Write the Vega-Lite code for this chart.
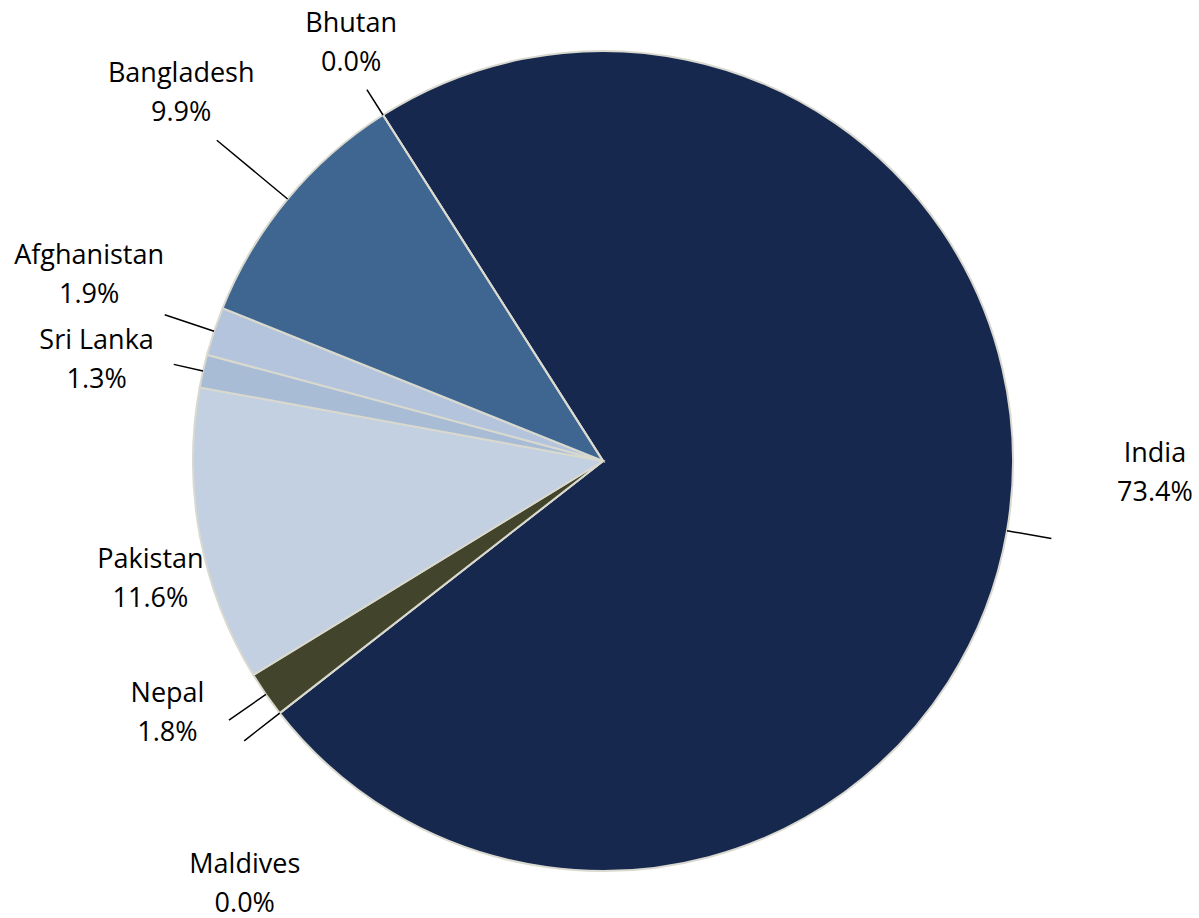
{
  "$schema": "https://vega.github.io/schema/vega-lite/v6.json",
  "width": 1192,
  "height": 916,
  "autosize": {"type": "none"},
  "padding": {"left": 7, "top": 3, "right": 0, "bottom": 0},
  "background": "white",
  "config": {"view": {"stroke": null}},
  "data": {"values": [
    {"country": "India", "value": 73.4, "order": 1},
    {"country": "Maldives", "value": 0.0, "order": 2},
    {"country": "Nepal", "value": 1.8, "order": 3},
    {"country": "Pakistan", "value": 11.6, "order": 4},
    {"country": "Sri Lanka", "value": 1.3, "order": 5},
    {"country": "Afghanistan", "value": 1.9, "order": 6},
    {"country": "Bangladesh", "value": 9.9, "order": 7},
    {"country": "Bhutan", "value": 0.0, "order": 8}
  ]},
  "transform": [
    {"window": [{"op": "sum", "field": "value", "as": "cum"}], "sort": [{"field": "order", "order": "ascending"}], "frame": [null, 0]},
    {"calculate": "datum.cum - datum.value / 2", "as": "mid"},
    {"calculate": "datum.country + '\\n' + format(datum.value, '.1f') + '%'", "as": "label"}
  ],
  "layer": [
    {
      "mark": {"type": "arc", "radius": 410, "stroke": "#d9d9cf", "strokeWidth": 2},
      "encoding": {
        "theta": {"field": "value", "type": "quantitative", "stack": true, "scale": {"domain": [0, 99.9], "range": [-0.5664, 5.7168]}},
        "order": {"field": "order", "type": "quantitative"},
        "color": {"field": "country", "type": "nominal", "legend": null,
          "scale": {"domain": ["India", "Maldives", "Nepal", "Pakistan", "Sri Lanka", "Afghanistan", "Bangladesh", "Bhutan"],
                    "range": ["#17284f", "#5b6b3a", "#42442b", "#c3d0e1", "#a9bcd6", "#b3c4dc", "#3e6690", "#2a4a7a"]}}
      }
    },
    {
      "transform": [{"filter": {"field": "country", "oneOf": ["Bhutan", "Sri Lanka"]}}],
      "mark": {"type": "arc", "radius": 440, "radius2": 410, "filled": false, "stroke": "black", "strokeWidth": 1.5},
      "encoding": {
        "theta": {"field": "mid", "type": "quantitative", "stack": null, "scale": {"domain": [0, 99.9], "range": [-0.5664, 5.7168]}},
        "theta2": {"field": "mid"}
      }
    },
    {
      "transform": [{"filter": {"field": "country", "oneOf": ["Nepal", "India", "Maldives"]}}],
      "mark": {"type": "arc", "radius": 455, "radius2": 410, "filled": false, "stroke": "black", "strokeWidth": 1.5},
      "encoding": {
        "theta": {"field": "mid", "type": "quantitative", "stack": null, "scale": {"domain": [0, 99.9], "range": [-0.5664, 5.7168]}},
        "theta2": {"field": "mid"}
      }
    },
    {
      "transform": [{"filter": {"field": "country", "oneOf": ["Afghanistan"]}}],
      "mark": {"type": "arc", "radius": 462, "radius2": 410, "filled": false, "stroke": "black", "strokeWidth": 1.5},
      "encoding": {
        "theta": {"field": "mid", "type": "quantitative", "stack": null, "scale": {"domain": [0, 99.9], "range": [-0.5664, 5.7168]}},
        "theta2": {"field": "mid"}
      }
    },
    {
      "transform": [{"filter": {"field": "country", "oneOf": ["Bangladesh"]}}],
      "mark": {"type": "arc", "radius": 502, "radius2": 410, "filled": false, "stroke": "black", "strokeWidth": 1.5},
      "encoding": {
        "theta": {"field": "mid", "type": "quantitative", "stack": null, "scale": {"domain": [0, 99.9], "range": [-0.5664, 5.7168]}},
        "theta2": {"field": "mid"}
      }
    },
    {
      "transform": [{"filter": "datum.country === 'Bhutan'"}],
      "mark": {"type": "text", "radius": 488, "dx": 10, "dy": -25.5, "font": "Open Sans", "fontSize": 27, "lineBreak": "\n", "lineHeight": 39, "align": "center", "baseline": "middle", "color": "black"},
      "encoding": {"theta": {"field": "mid", "type": "quantitative", "stack": null, "scale": {"domain": [0, 99.9], "range": [-0.5664, 5.7168]}}, "text": {"field": "label"}}
    },
    {
      "transform": [{"filter": "datum.country === 'Bangladesh'"}],
      "mark": {"type": "text", "radius": 560, "dx": 9, "dy": -29.5, "font": "Open Sans", "fontSize": 27, "lineBreak": "\n", "lineHeight": 39, "align": "center", "baseline": "middle", "color": "black"},
      "encoding": {"theta": {"field": "mid", "type": "quantitative", "stack": null, "scale": {"domain": [0, 99.9], "range": [-0.5664, 5.7168]}}, "text": {"field": "label"}}
    },
    {
      "transform": [{"filter": "datum.country === 'Afghanistan'"}],
      "mark": {"type": "text", "radius": 547, "dx": 5, "dy": -32, "font": "Open Sans", "fontSize": 27, "lineBreak": "\n", "lineHeight": 39, "align": "center", "baseline": "middle", "color": "black"},
      "encoding": {"theta": {"field": "mid", "type": "quantitative", "stack": null, "scale": {"domain": [0, 99.9], "range": [-0.5664, 5.7168]}}, "text": {"field": "label"}}
    },
    {
      "transform": [{"filter": "datum.country === 'Sri Lanka'"}],
      "mark": {"type": "text", "radius": 516, "dx": -3, "dy": -7, "font": "Open Sans", "fontSize": 27, "lineBreak": "\n", "lineHeight": 39, "align": "center", "baseline": "middle", "color": "black"},
      "encoding": {"theta": {"field": "mid", "type": "quantitative", "stack": null, "scale": {"domain": [0, 99.9], "range": [-0.5664, 5.7168]}}, "text": {"field": "label"}}
    },
    {
      "transform": [{"filter": "datum.country === 'Pakistan'"}],
      "mark": {"type": "text", "radius": 499, "dx": 38, "dy": 7.5, "font": "Open Sans", "fontSize": 27, "lineBreak": "\n", "lineHeight": 39, "align": "center", "baseline": "middle", "color": "black"},
      "encoding": {"theta": {"field": "mid", "type": "quantitative", "stack": null, "scale": {"domain": [0, 99.9], "range": [-0.5664, 5.7168]}}, "text": {"field": "label"}}
    },
    {
      "transform": [{"filter": "datum.country === 'Nepal'"}],
      "mark": {"type": "text", "radius": 503, "dx": -22, "dy": -53, "font": "Open Sans", "fontSize": 27, "lineBreak": "\n", "lineHeight": 39, "align": "center", "baseline": "middle", "color": "black"},
      "encoding": {"theta": {"field": "mid", "type": "quantitative", "stack": null, "scale": {"domain": [0, 99.9], "range": [-0.5664, 5.7168]}}, "text": {"field": "label"}}
    },
    {
      "transform": [{"filter": "datum.country === 'Maldives'"}],
      "mark": {"type": "text", "radius": 557, "dx": 81, "dy": 61, "font": "Open Sans", "fontSize": 27, "lineBreak": "\n", "lineHeight": 39, "align": "center", "baseline": "middle", "color": "black"},
      "encoding": {"theta": {"field": "mid", "type": "quantitative", "stack": null, "scale": {"domain": [0, 99.9], "range": [-0.5664, 5.7168]}}, "text": {"field": "label"}}
    },
    {
      "transform": [{"filter": "datum.country === 'India'"}],
      "mark": {"type": "text", "radius": 552, "dx": 8, "dy": -101, "font": "Open Sans", "fontSize": 27, "lineBreak": "\n", "lineHeight": 39, "align": "center", "baseline": "middle", "color": "black"},
      "encoding": {"theta": {"field": "mid", "type": "quantitative", "stack": null, "scale": {"domain": [0, 99.9], "range": [-0.5664, 5.7168]}}, "text": {"field": "label"}}
    }
  ]
}
